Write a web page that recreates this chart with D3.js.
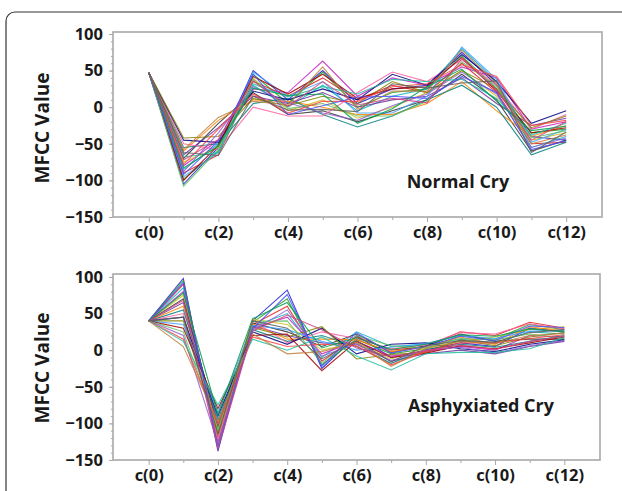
<!DOCTYPE html>
<html>
<head>
<meta charset="utf-8">
<script src="https://cdn.jsdelivr.net/npm/d3@7"></script>
<style>
  body { margin: 0; background: #fff; }
  text { font-family: "Open Sans", "DejaVu Sans", sans-serif; font-weight: bold; fill: #1a1a1a; }
</style>
</head>
<body>
<div id="chart"></div>
<script>
// coefficient labels c(0)..c(12)
const coefs = d3.range(13);
const tickLabels = ["c(0)", "c(2)", "c(4)", "c(6)", "c(8)", "c(10)", "c(12)"];
const yTicks = [100, 50, 0, -50, -100, -150];

// normal cry MFCC curves
const normalCry = [
  [47, -105, -55, 50, 10, 50, 5, 25, 30, 75, 30, -40, -45],
  [47, -98, -60, 45, 5, 48, 0, 20, 25, 70, 25, -35, -30],
  [47, -90, -65, 35, 15, 40, 10, 30, 20, 60, 20, -50, -48],
  [47, -85, -50, 30, 0, 30, -5, 15, 25, 80, 35, -55, -40],
  [47, -80, -45, 25, 20, 63, 15, 40, 30, 55, 40, -30, -20],
  [47, -75, -55, 40, -5, 10, -15, 0, 20, 50, 15, -45, -35],
  [47, -70, -22, 20, -10, -5, -20, -5, 10, 45, 10, -60, -45],
  [47, -65, -28, 15, 5, 20, 0, 10, 15, 40, 5, -25, -15],
  [47, -60, -18, 10, 8, 0, -10, -10, 5, 35, -5, -40, -25],
  [47, -55, -50, 5, 12, -10, -27, -12, 10, 30, 0, -65, -48],
  [47, -50, -58, 0, -12, -12, 20, 48, 35, 65, 30, -30, -10],
  [47, -45, -48, 22, 10, 25, 10, 45, 30, 72, 35, -22, -5],
  [47, -42, -40, 12, 2, 15, 5, 35, 20, 50, 25, -28, -12],
  [47, -95, -62, 48, 15, 35, -8, -8, 15, 82, 38, -48, -30],
  [47, -100, -52, 42, 18, 45, 12, 25, 28, 68, 22, -35, -28],
  [47, -108, -58, 38, -2, 5, -12, -12, 8, 62, 28, -42, -32],
  [47, -88, -35, 28, 6, -8, -18, 2, 18, 48, 18, -55, -42],
  [47, -78, -30, 18, -8, 8, 8, 28, 32, 58, 42, -25, -18],
  [47, -68, -62, 32, 14, 28, 18, 38, 35, 38, 12, -38, -22],
  [47, -58, -14, 8, 3, 55, -3, 22, 22, 78, 32, -50, -38],
  [47, -92, -46, 45, -10, 2, 14, 15, 12, 42, 20, -58, -46],
  [47, -83, -53, 26, 16, 18, -22, -2, 28, 52, 8, -32, -26],
  [47, -72, -44, 36, 1, 35, 3, 12, 6, 66, 24, -45, -20],
  [47, -62, -66, 15, -4, -3, -6, 32, 26, 33, 36, -62, -34]
];

// asphyxiated cry MFCC curves
const asphyxiatedCry = [
  [40, 98, -138, 40, 82, -25, 20, -10, 0, 10, 5, 30, 25],
  [40, 95, -130, 38, 70, -20, 15, -5, 2, 20, 15, 35, 28],
  [40, 90, -125, 35, 60, -15, 18, 0, 5, 25, 20, 38, 30],
  [40, 85, -120, 32, 50, -10, 25, 5, 8, 15, 10, 25, 22],
  [40, 80, -115, 30, 45, -5, 12, -8, -2, 5, 0, 20, 18],
  [40, 75, -110, 42, 35, 0, 10, -12, 3, 12, 18, 28, 32],
  [40, 70, -105, 37, 25, 5, 22, -3, 6, 22, 12, 15, 15],
  [40, 65, -100, 33, 20, 10, 8, -15, -5, 0, -5, 5, 12],
  [40, 60, -118, 36, 15, 15, 14, -2, 4, 18, 8, 32, 26],
  [40, 55, -95, 28, 12, 20, 5, -18, 1, 8, 4, 12, 20],
  [40, 50, -122, 41, 10, 25, 16, 2, 7, 24, 22, 36, 29],
  [40, 45, -90, 25, 8, 30, -5, 8, 10, 2, -2, 8, 14],
  [40, 40, -112, 31, 18, 32, -12, -6, -3, 14, 6, 18, 24],
  [40, 35, -85, 34, 28, 12, 0, 4, 9, 20, 16, 26, 27],
  [40, 30, -80, 20, 22, -28, 12, -10, -4, 6, 2, 10, 18],
  [40, 25, -108, 39, 40, -18, 20, 6, 3, 16, 14, 22, 16],
  [40, 20, -128, 27, 55, -8, 9, -14, 0, 4, -4, 6, 13],
  [40, 15, -102, 18, 5, 8, 6, -20, -2, 10, 10, 16, 21],
  [40, 12, -75, 15, 0, 18, -8, -27, -5, -3, -3, 2, 17],
  [40, 5, -98, 22, -5, -2, 11, -22, 2, 12, 9, 20, 23],
  [40, 92, -132, 29, 76, -22, 24, -4, 5, 19, 13, 33, 31],
  [40, 78, -88, 43, 65, 3, 17, 1, 8, 21, 19, 29, 25],
  [40, 68, -135, 26, 48, 28, 3, -9, -1, 7, 1, 12, 19],
  [40, 45, -115, 40, 30, -12, 13, -16, 6, 13, 11, 24, 28]
];

const lineColors = ["#1f1fd0", "#20a020", "#e02020", "#10b0c0", "#c020c0", "#d0c020",
  "#303030", "#7030a0", "#ff8000", "#008080", "#ff60a0", "#000080",
  "#808000", "#40a0ff", "#a00000", "#60c060", "#9060d0", "#ff4040",
  "#20c0a0", "#c08040", "#5050ff", "#00a050", "#d04080", "#606060"];

const W = 622, H = 491;

const svg = d3.select("#chart").append("svg")
  .attr("width", W)
  .attr("height", H);

// outer figure frame
svg.append("rect")
  .attr("x", 6).attr("y", 12)
  .attr("width", 660).attr("height", 520)
  .attr("rx", 9)
  .attr("fill", "none")
  .attr("stroke", "#333")
  .attr("stroke-width", 1.2);

const panels = [
  { data: normalCry, title: "Normal Cry", left: 113, right: 602, top: 32, bottom: 217, yTop: 102.7, titleX: 458, titleY: 183, ylabY: 128 },
  { data: asphyxiatedCry, title: "Asphyxiated Cry", left: 113, right: 600, top: 274, bottom: 460, yTop: 104, titleX: 481, titleY: 407, ylabY: 368 }
];

panels.forEach(p => {
  const x = d3.scaleLinear().domain([-1.03, 13.03]).range([p.left, p.right]);
  const y = d3.scaleLinear().domain([-150, p.yTop]).range([p.bottom, p.top]);

  const g = svg.append("g");

  // lines
  const line = d3.line()
    .x((d, i) => x(coefs[i]))
    .y(d => y(d));

  g.selectAll(".series")
    .data(p.data)
    .enter()
    .append("path")
    .attr("d", line)
    .attr("fill", "none")
    .attr("stroke", (d, i) => lineColors[i % lineColors.length])
    .attr("stroke-width", 1.1)
    .attr("stroke-opacity", 0.85);

  // box
  g.append("rect")
    .attr("x", p.left).attr("y", p.top)
    .attr("width", p.right - p.left).attr("height", p.bottom - p.top)
    .attr("fill", "none")
    .attr("stroke", "#a8a8a8")
    .attr("stroke-width", 1.6);

  // y axis
  const yAxis = g.append("g")
    .attr("transform", `translate(${p.left},0)`)
    .call(d3.axisLeft(y).tickValues(d3.range(-150, 101, 10)).tickSize(2).tickFormat(""));
  yAxis.select(".domain").remove();
  yAxis.selectAll("line").attr("stroke", "#a8a8a8");

  const yMajor = g.append("g")
    .attr("transform", `translate(${p.left},0)`)
    .call(d3.axisLeft(y).tickValues(yTicks).tickSize(4).tickPadding(6));
  yMajor.select(".domain").remove();
  yMajor.selectAll("line").attr("stroke", "#a8a8a8");
  yMajor.selectAll("text").style("font-size", "16.5px").attr("fill", "#1a1a1a");

  // x axis
  const xMinor = g.append("g")
    .attr("transform", `translate(0,${p.bottom})`)
    .call(d3.axisBottom(x).tickValues(coefs.filter(c => c % 2 === 1)).tickSize(3).tickFormat(""));
  xMinor.select(".domain").remove();
  xMinor.selectAll("line").attr("stroke", "#a8a8a8");

  const xMajor = g.append("g")
    .attr("transform", `translate(0,${p.bottom})`)
    .call(d3.axisBottom(x).tickValues(coefs.filter(c => c % 2 === 0)).tickSize(5).tickPadding(4)
      .tickFormat((d, i) => tickLabels[i]));
  xMajor.select(".domain").remove();
  xMajor.selectAll("line").attr("stroke", "#a8a8a8");
  xMajor.selectAll("text").style("font-size", "16.5px").attr("fill", "#1a1a1a");

  // axis title
  g.append("text")
    .attr("transform", `translate(49,${p.ylabY}) rotate(-90)`)
    .attr("text-anchor", "middle")
    .style("font-size", "19px")
    .text("MFCC Value");

  // panel title
  g.append("text")
    .attr("x", p.titleX)
    .attr("y", p.titleY)
    .attr("text-anchor", "middle")
    .attr("dominant-baseline", "middle")
    .style("font-size", "18px")
    .text(p.title);
});
</script>
</body>
</html>
